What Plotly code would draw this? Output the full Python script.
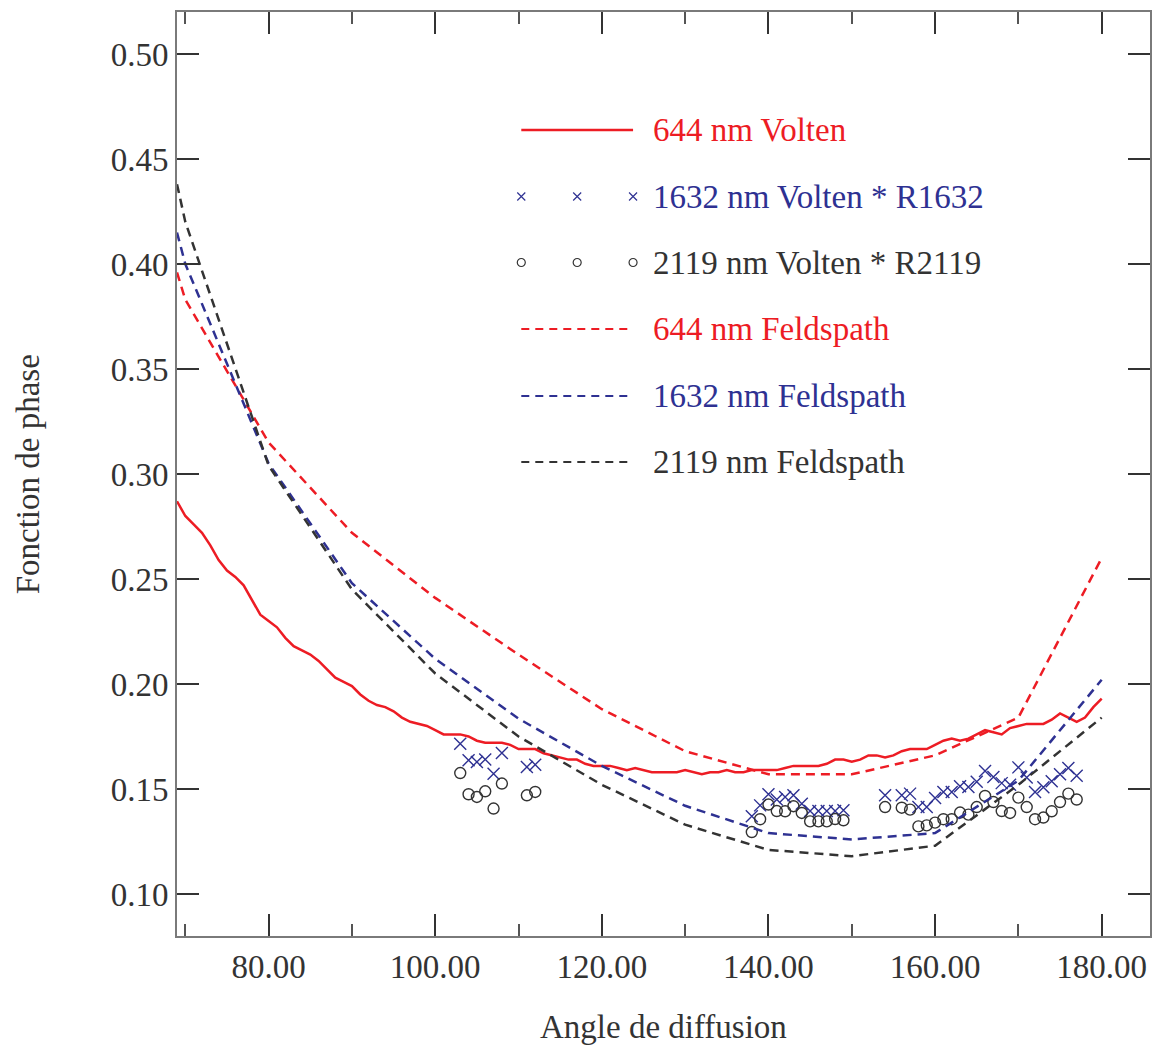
import plotly.graph_objects as go

# ---- Volten measurements (1-degree steps) ----
volten_angles = list(range(69, 181))
volten_644 = [
    0.287, 0.280, 0.276, 0.272, 0.266, 0.259, 0.254, 0.251, 0.247, 0.240,   # 69-78
    0.233, 0.230, 0.227, 0.222, 0.218, 0.216, 0.214, 0.211, 0.207, 0.203,   # 79-88
    0.201, 0.199, 0.195, 0.192, 0.190, 0.189, 0.187, 0.184, 0.182, 0.181,   # 89-98
    0.180, 0.178, 0.176, 0.176, 0.176, 0.175, 0.173, 0.172, 0.172, 0.172,   # 99-108
    0.171, 0.169, 0.169, 0.169, 0.167, 0.166, 0.165, 0.164, 0.164, 0.162,   # 109-118
    0.161, 0.161, 0.161, 0.160, 0.159, 0.160, 0.159, 0.158, 0.158, 0.158,   # 119-128
    0.158, 0.159, 0.158, 0.157, 0.158, 0.158, 0.159, 0.158, 0.158, 0.159,   # 129-138
    0.159, 0.159, 0.159, 0.160, 0.161, 0.161, 0.161, 0.161, 0.162, 0.164,   # 139-148
    0.164, 0.163, 0.164, 0.166, 0.166, 0.165, 0.166, 0.168, 0.169, 0.169,   # 149-158
    0.169, 0.171, 0.173, 0.174, 0.173, 0.174, 0.176, 0.178, 0.177, 0.176,   # 159-168
    0.179, 0.180, 0.181, 0.181, 0.181, 0.183, 0.186, 0.184, 0.182, 0.184,   # 169-178
    0.189, 0.193,                                                           # 179-180
]

# ---- Volten scaled by reflectance ratios ----
scaled_angles = [103, 104, 105, 106, 107, 108, 111, 112,
                 138, 139, 140, 141, 142, 143, 144, 145, 146, 147, 148, 149,
                 154, 156, 157, 158, 159, 160, 161, 162, 163, 164, 165, 166,
                 167, 168, 169, 170, 171, 172, 173, 174, 175, 176, 177]
volten_1632_r = [0.1716, 0.1637, 0.1629, 0.1641, 0.1573, 0.1671, 0.1605, 0.1616,
                 0.1370, 0.1422, 0.1475, 0.1450, 0.1462, 0.1470, 0.1430, 0.1395,
                 0.1395, 0.1395, 0.1395, 0.1399,
                 0.1470, 0.1470, 0.1478, 0.1414, 0.1414, 0.1457, 0.1486, 0.1486,
                 0.1513, 0.1510, 0.1535, 0.1586, 0.1557, 0.1528, 0.1520, 0.1603,
                 0.1555, 0.1486, 0.1508, 0.1537, 0.1570, 0.1600, 0.1563]
volten_2119_r = [0.1576, 0.1475, 0.1462, 0.1489, 0.1407, 0.1526, 0.1470, 0.1486,
                 0.1295, 0.1356, 0.1426, 0.1395, 0.1394, 0.1418, 0.1386, 0.1346,
                 0.1346, 0.1346, 0.1357, 0.1351,
                 0.1414, 0.1411, 0.1402, 0.1322, 0.1327, 0.1340, 0.1356, 0.1356,
                 0.1388, 0.1378, 0.1414, 0.1467, 0.1438, 0.1395, 0.1386, 0.1459,
                 0.1414, 0.1356, 0.1364, 0.1394, 0.1438, 0.1478, 0.1450]

# ---- Feldspath model ----
feld_angles = [69, 70, 80, 90, 100, 110, 120, 130, 140, 150, 160, 170, 180]
feld_644 = [0.396, 0.383, 0.315, 0.272, 0.241, 0.214, 0.188, 0.168, 0.157, 0.157, 0.166, 0.184, 0.260]
feld_1632 = [0.415, 0.400, 0.305, 0.248, 0.212, 0.1835, 0.161, 0.142, 0.129, 0.126, 0.129, 0.154, 0.202]
feld_2119 = [0.438, 0.420, 0.304, 0.245, 0.205, 0.175, 0.152, 0.133, 0.121, 0.118, 0.123, 0.152, 0.184]

legend_labels = ["644 nm Volten", "1632 nm Volten * R1632", "2119 nm Volten * R2119",
                 "644 nm Feldspath", "1632 nm Feldspath", "2119 nm Feldspath"]

RED = "#ED1C24"
BLUE = "#2E3192"
DARK = "#333333"
FONT = "Liberation Serif"
DASH = "9px,6px"

fig = go.Figure()

fig.add_trace(go.Scatter(x=volten_angles, y=volten_644, mode="lines",
                         line=dict(color=RED, width=2.5), name=legend_labels[0]))
fig.add_trace(go.Scatter(x=scaled_angles, y=volten_1632_r, mode="markers",
                         marker=dict(symbol="x-thin-open", size=12, color=BLUE,
                                     line=dict(color=BLUE, width=1.4)),
                         name=legend_labels[1]))
fig.add_trace(go.Scatter(x=scaled_angles, y=volten_2119_r, mode="markers",
                         marker=dict(symbol="circle-open", size=11, color=DARK,
                                     line=dict(color=DARK, width=1.4)),
                         name=legend_labels[2]))
fig.add_trace(go.Scatter(x=feld_angles, y=feld_644, mode="lines",
                         line=dict(color=RED, width=2.5, dash=DASH), name=legend_labels[3]))
fig.add_trace(go.Scatter(x=feld_angles, y=feld_1632, mode="lines",
                         line=dict(color=BLUE, width=2.5, dash=DASH), name=legend_labels[4]))
fig.add_trace(go.Scatter(x=feld_angles, y=feld_2119, mode="lines",
                         line=dict(color=DARK, width=2.5, dash=DASH), name=legend_labels[5]))

# ---- legend block drawn on a pixel-scaled overlay axis ----
PLOT_L, PLOT_R, PLOT_T, PLOT_B = 177, 1152, 12, 936
key_x0, key_x1, text_x = 522, 634, 652
row_y = [130, 196.5, 262.5, 329, 396, 462]
text_colors = [RED, BLUE, DARK, RED, BLUE, DARK]


def px_to_paper(px, py):
    return ((px - PLOT_L) / (PLOT_R - PLOT_L), (PLOT_B - py) / (PLOT_B - PLOT_T))


fig.add_trace(go.Scatter(x=[key_x0, key_x1], y=[row_y[0]] * 2, mode="lines",
                         line=dict(color=RED, width=2.5), xaxis="x2", yaxis="y2",
                         showlegend=False, hoverinfo="skip"))
fig.add_trace(go.Scatter(x=[key_x0, (key_x0 + key_x1) / 2, key_x1], y=[row_y[1]] * 3,
                         mode="markers", xaxis="x2", yaxis="y2",
                         marker=dict(symbol="x-thin-open", size=8, color=BLUE,
                                     line=dict(color=BLUE, width=1.2)),
                         showlegend=False, hoverinfo="skip"))
fig.add_trace(go.Scatter(x=[key_x0, (key_x0 + key_x1) / 2, key_x1], y=[row_y[2]] * 3,
                         mode="markers", xaxis="x2", yaxis="y2",
                         marker=dict(symbol="circle-open", size=8, color=DARK,
                                     line=dict(color=DARK, width=1.2)),
                         showlegend=False, hoverinfo="skip"))
for row, col in zip(row_y[3:], [RED, BLUE, DARK]):
    fig.add_trace(go.Scatter(x=[key_x0, key_x1], y=[row, row], mode="lines",
                             line=dict(color=col, width=2, dash="8px,6px"),
                             xaxis="x2", yaxis="y2", showlegend=False, hoverinfo="skip"))

for label, row, col in zip(legend_labels, row_y, text_colors):
    fig.add_annotation(x=text_x, y=row, xref="x2", yref="y2", text=label,
                       showarrow=False, xanchor="left", yanchor="middle",
                       font=dict(family=FONT, size=33, color=col))

# ---- axis titles ----
tx, ty = px_to_paper((PLOT_L + PLOT_R) / 2, 1027)
fig.add_annotation(x=tx, y=ty, xref="paper", yref="paper",
                   text="Angle de diffusion", showarrow=False,
                   xanchor="center", yanchor="middle",
                   font=dict(family=FONT, size=33, color=DARK))
tx, ty = px_to_paper(28, (PLOT_T + PLOT_B) / 2)
fig.add_annotation(x=tx, y=ty, xref="paper", yref="paper",
                   text="Fonction de phase", showarrow=False, textangle=-90,
                   xanchor="center", yanchor="middle",
                   font=dict(family=FONT, size=33, color=DARK))

axis_common = dict(showgrid=False, zeroline=False, showline=True, linecolor="#7a7a7a",
                   linewidth=2, mirror="allticks", ticks="inside", ticklen=22,
                   tickwidth=1.5, tickcolor="#333333",
                   tickfont=dict(family=FONT, size=33, color=DARK))

fig.update_layout(
    width=1155, height=1047,
    margin=dict(l=PLOT_L, r=1155 - PLOT_R, t=PLOT_T, b=1047 - PLOT_B),
    paper_bgcolor="white", plot_bgcolor="white",
    showlegend=False,
    xaxis=dict(range=[69, 185.8], tick0=80, dtick=20, tickformat=".2f",
               minor=dict(dtick=10, tick0=70, ticks="inside", ticklen=12,
                          tickwidth=1.5, tickcolor="#555555"),
               **axis_common),
    yaxis=dict(range=[0.08, 0.52], tick0=0.1, dtick=0.05, tickformat=".2f",
               **axis_common),
    xaxis2=dict(overlaying="x", range=[PLOT_L, PLOT_R], visible=False),
    yaxis2=dict(overlaying="y", range=[PLOT_B, PLOT_T], visible=False),
)

fig.write_html("out.html")
